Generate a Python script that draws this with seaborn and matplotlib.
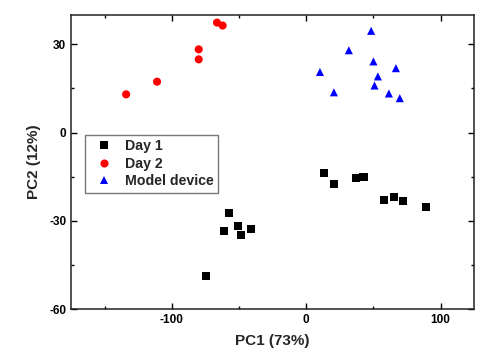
import matplotlib
matplotlib.use("Agg")
import matplotlib.pyplot as plt
import seaborn as sns
import pandas as pd
from matplotlib.ticker import MultipleLocator

# PCA scores
day1_pc1 = [13.4, 20.8, 37.2, 42.6, 58.0, 65.2, 72.3, 89.2,
            -57.8, -61.0, -50.8, -48.6, -40.9, -74.3]
day1_pc2 = [-13.7, -17.6, -15.5, -15.2, -22.8, -21.8, -23.3, -25.3,
            -27.3, -33.4, -31.9, -34.9, -32.7, -48.9]

day2_pc1 = [-134.0, -111.0, -80.0, -80.0, -66.4, -62.2]
day2_pc2 = [13.0, 17.3, 24.9, 28.3, 37.4, 36.4]

model_pc1 = [10.2, 20.6, 31.7, 48.3, 50.0, 53.3, 50.8, 66.7, 61.5, 69.6]
model_pc2 = [20.6, 13.7, 28.0, 34.6, 24.2, 19.1, 16.0, 21.9, 13.3, 11.7]

groups = ["Day 1", "Day 2", "Model device"]
colors = ["black", "#ff0000", "#0000ff"]
markers = ["s", "o", "^"]

df = pd.concat([
    pd.DataFrame({"PC1": day1_pc1, "PC2": day1_pc2, "group": groups[0]}),
    pd.DataFrame({"PC1": day2_pc1, "PC2": day2_pc2, "group": groups[1]}),
    pd.DataFrame({"PC1": model_pc1, "PC2": model_pc2, "group": groups[2]}),
], ignore_index=True)

sns.set_style("ticks")
plt.rcParams["font.family"] = ["Liberation Sans", "DejaVu Sans"]
plt.rcParams["font.weight"] = "bold"
plt.rcParams["axes.unicode_minus"] = False

fig = plt.figure(figsize=(4.8, 3.56), dpi=100)
ax = fig.add_axes([0.148, 0.132, 0.840, 0.826])

sns.scatterplot(data=df, x="PC1", y="PC2", hue="group", style="group",
                hue_order=groups, style_order=groups,
                palette=dict(zip(groups, colors)),
                markers=dict(zip(groups, markers)),
                s=34, linewidth=0, ax=ax)

ax.set_xlim(-175, 125)
ax.set_ylim(-60, 40)
ax.xaxis.set_major_locator(MultipleLocator(100))
ax.xaxis.set_minor_locator(MultipleLocator(50))
ax.yaxis.set_major_locator(MultipleLocator(30))
ax.yaxis.set_minor_locator(MultipleLocator(15))
ax.tick_params(which="both", direction="in", top=True, right=True,
               labelsize=8.5, width=1.0, colors="black")
ax.tick_params(which="major", length=4)
ax.tick_params(which="minor", length=2.5)
for lab in ax.get_xticklabels() + ax.get_yticklabels():
    lab.set_fontweight("bold")
for sp in ax.spines.values():
    sp.set_linewidth(1.1)
    sp.set_color("#222222")

ax.set_xlabel("PC1 (73%)", fontsize=11, fontweight="bold", labelpad=6)
ax.set_ylabel("PC2 (12%)", fontsize=11, fontweight="bold", labelpad=6)

leg = ax.legend(loc="upper left", bbox_to_anchor=(0.035, 0.592),
                fontsize=10.2, frameon=True, fancybox=False,
                handletextpad=0.5, borderpad=0.3, labelspacing=0.25,
                markerscale=1.0, borderaxespad=0)
leg.get_frame().set_edgecolor("#555555")
leg.get_frame().set_linewidth(1.0)
for t in leg.get_texts():
    t.set_fontweight("bold")

fig.savefig("out.png", dpi=100)
